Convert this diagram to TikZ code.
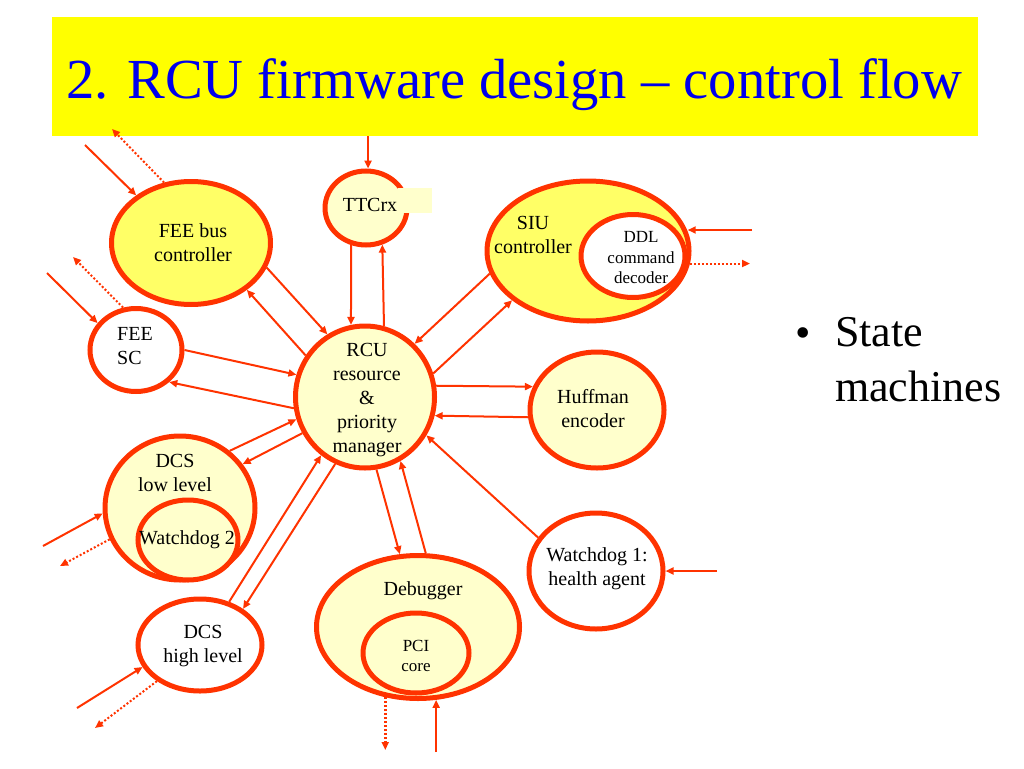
\documentclass[tikz,border=0pt]{standalone}
\usepackage{fontspec}
\setmainfont{Liberation Serif}
\usetikzlibrary{shapes.geometric,arrows.meta}
\definecolor{edge}{RGB}{255,51,0}
\definecolor{bright}{RGB}{255,255,102}
\definecolor{pale}{RGB}{255,255,204}
\definecolor{barfill}{RGB}{255,255,0}
\definecolor{titleblue}{RGB}{0,0,235}

\begin{document}
\begin{tikzpicture}[x=1pt,y=-1pt,
  >={Triangle[length=8pt,width=7pt]},
  blob/.style 2 args={ellipse,draw=edge,line width=5,inner sep=0,minimum width=#1,minimum height=#2},
  txt/.style={font=\fontsize{20}{24}\selectfont,align=center,inner sep=0},
  small/.style={font=\fontsize{17}{20.5}\selectfont,align=center,inner sep=0},
  arr/.style={->,color=edge,line width=2},
  darr/.style={arr,dash pattern=on 2pt off 2pt}]
\useasboundingbox (0,0) rectangle (1024,768);

\node[fill=barfill,minimum width=926,minimum height=119,inner sep=0] (head) at (515,76.5) {};
\node[anchor=base,text=titleblue,font=\fontsize{56.6}{60}\selectfont,inner sep=0] (title) at (514,98) {2. RCU firmware design -- control flow};

% state machines
\node[blob={159}{123},fill=bright] (fee) at (191,243) {};
\node[blob={82}{74},fill=pale] (ttc) at (366,208) {};
\node[blob={139}{142},fill=pale] (rcu) at (365,397) {};
\node[blob={202}{140},fill=bright] (siu) at (588,251) {};
\node[blob={104}{83},fill=white] (ddl) at (633,256) {};
\node[blob={134}{116},fill=pale] (huf) at (597,410) {};
\node[blob={92}{83},fill=white] (fsc) at (136,350) {};
\node[blob={150}{144},fill=pale] (dcsl) at (180,508) {};
\node[blob={100}{80},fill=pale] (wd2) at (188,540) {};
\node[blob={124}{92},fill=white] (dcsh) at (200,645) {};
\node[blob={203}{143},fill=pale] (dbg) at (418,627) {};
\node[blob={106}{80},fill=pale] (pci) at (416,653) {};
\node[blob={134}{116},fill=white] (wd1) at (596,571) {};

\fill[pale] (398,188) rectangle (432,213);

\node[txt] (feeText) at (193,243) {FEE bus\\controller};
\node[txt] (ttcText) at (370,205) {TTCrx};
\node[txt] (rcuText) at (367,400) {RCU\\resource\\\&\\priority\\manager};
\node[txt] (siuText) at (533,235) {SIU\\controller};
\node[small] (ddlText) at (641,258) {DDL\\command\\decoder};
\node[txt] (hufText) at (593,409) {Huffman\\encoder};
\node[txt,align=left] (fscText) at (135,346) {FEE\\SC};
\node[txt] (dcslText) at (175,473) {DCS\\low level};
\node[txt] (wd2Text) at (187,540) {Watchdog 2};
\node[txt] (dcshText) at (203,646) {DCS\\high level};
\node[txt] (dbgText) at (423,591) {Debugger};
\node[small] (pciText) at (416,656) {PCI\\core};
\node[txt] (wd1Text) at (597,569) {Watchdog 1:\\health agent};

\node[anchor=base,font=\fontsize{44}{55}\selectfont,inner sep=0] (dot) at (803,347) {\textbullet};
\node[anchor=north west,align=left,font=\fontsize{44}{55}\selectfont,inner sep=0] (note) at (835,317.5) {State\\machines};

% free ends
\coordinate (feeIn) at (85,145);
\coordinate (feeOut) at (112,129);
\coordinate (fscIn) at (47,273);
\coordinate (fscOut) at (73,257);
\coordinate (siuIn) at (752,230);
\coordinate (siuOut) at (750,264);
\coordinate (wd1In) at (717,571);
\coordinate (dcslIn) at (43,546);
\coordinate (dcslOut) at (60,566);
\coordinate (dcshIn) at (77,708);
\coordinate (dcshOut) at (95,728);
\coordinate (dbgOut) at (385,750);
\coordinate (dbgIn) at (436,752);

% to and from the manager
\draw[arr] (ttc.87 |- head.south) -- (ttc.87);
\draw[arr] (ttc.-112) -- (rcu.101);
\draw[arr] (rcu.75) -- (ttc.-66);
\draw[arr] (fee.-18) -- (rcu.121);
\draw[arr] (rcu.145) -- (fee.-40);
\draw[arr] (fsc.0) -- (rcu.162);
\draw[arr] (rcu.189) -- (fsc.-44);
\draw[arr] (siu.-167) -- (rcu.47);
\draw[arr] (rcu.19) -- (siu.-147);
\draw[arr] (rcu.9) -- (huf.160);
\draw[arr] (huf.186) -- (rcu.-15);
\draw[arr] (wd1.150) -- (rcu.-32);
\draw[arr] (rcu.-81) -- (dbg.104);
\draw[arr] (dbg.84) -- (rcu.-61);
\draw[arr] (dcsl.49) -- (rcu.198);
\draw[arr] (rcu.210) -- (dcsl.35);
\draw[arr] (dcsh.56) -- (rcu.233);
\draw[arr] (rcu.246) -- (dcsh.40);

% outside links
\draw[arr] (feeIn) -- (fee.139);
\draw[darr] (fee.114) -- (feeOut);
\draw[arr] (fscIn) -- (fsc.145);
\draw[darr] (fsc.107) -- (fscOut);
\draw[arr] (siuIn) -- (siu.11 |- siuIn);
\draw[darr] (siu.-7) -- (siu.-7 -| siuOut);
\draw[arr] (wd1In) -- (wd1.east);
\draw[arr] (dcslIn) -- (dcsl.184);
\draw[darr] (dcsl.204) -- (dcslOut);
\draw[arr] (dcshIn) -- (dcsh.201);
\draw[darr] (dcsh.220) -- (dcshOut);
\draw[darr,line width=3] (dbg.-115) -- (dbg.-115 |- dbgOut);
\draw[arr] (dbg.-76 |- dbgIn) -- (dbg.-76);
\end{tikzpicture}
\end{document}
